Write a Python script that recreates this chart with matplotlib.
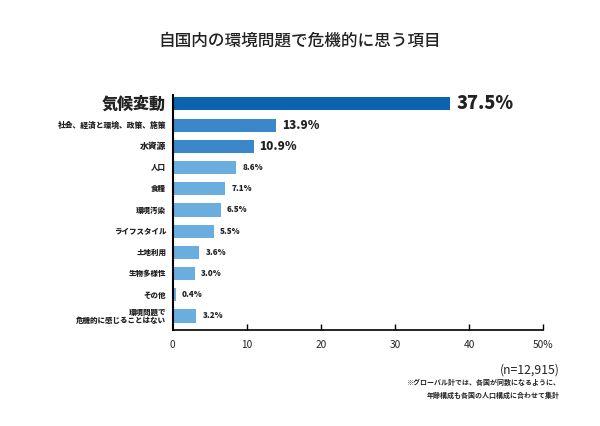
import numpy as np
import matplotlib.pyplot as plt

plt.rcParams['font.family'] = ['Noto Sans CJK JP', 'DejaVu Sans']

# data
categories = ['気候変動', '社会、経済と環境、政策、施策', '水資源', '人口', '食糧',
              '環境汚染', 'ライフスタイル', '土地利用', '生物多様性', 'その他',
              '環境問題で\n危機的に感じることはない']
values = [37.5, 13.9, 10.9, 8.6, 7.1, 6.5, 5.5, 3.6, 3.0, 0.4, 3.2]
xticks = [0, 10, 20, 30, 40, 50]
xtick_labels = ['0', '10', '20', '30', '40', '50%']

colors = ['#0d63b0'] + ['#3a87c9'] * 2 + ['#6aaee0'] * 8
cat_sizes = [11.5, 5.6, 6.3] + [5.4] * 8
val_sizes = [13] + [8.5] * 2 + [5.8] * 8

fig = plt.figure(figsize=(6, 4.26), dpi=100)
ax = fig.add_axes([0.288, 0.2254, 0.617, 0.5516])

y = np.arange(len(values))
ax.barh(y, values, height=0.62, color=colors)
ax.set_xlim(0, 50)
ax.set_ylim(10.66, -0.42)

for i, v in enumerate(values):
    ax.text(v + 0.8, y[i], f'{v:.1f}%', va='center', ha='left',
            fontsize=val_sizes[i], fontweight='heavy', color='#222222')
    ax.text(-0.9, y[i], categories[i], va='center', ha='right',
            fontsize=cat_sizes[i], fontweight='heavy', color='#222222',
            linespacing=1.1)

ax.set_yticks([])
ax.set_xticks(xticks)
ax.set_xticklabels(xtick_labels, fontsize=7.3, color='#222222')
ax.tick_params(axis='x', direction='in', length=4, width=1, pad=7)
ax.xaxis.get_major_ticks()[0].tick1line.set_visible(False)
for s in ['top', 'right']:
    ax.spines[s].set_visible(False)
ax.spines['left'].set_linewidth(1.5)
ax.spines['bottom'].set_linewidth(1.2)

fig.text(0.5, 0.905, '自国内の環境問題で危機的に思う項目', ha='center', va='center',
         fontsize=12, fontweight='medium', color='#222222')
fig.text(0.933, 0.131, '(n=12,915)', ha='right', va='center', fontsize=8.8, color='#222222')
fig.text(0.933, 0.102, '※グローバル計では、各国が同数になるように、', ha='right', va='center',
         fontsize=5, fontweight='bold', color='#222222')
fig.text(0.933, 0.072, '年齢構成も各国の人口構成に合わせて集計', ha='right', va='center',
         fontsize=5, fontweight='bold', color='#222222')

fig.savefig('out.png', dpi=100)
